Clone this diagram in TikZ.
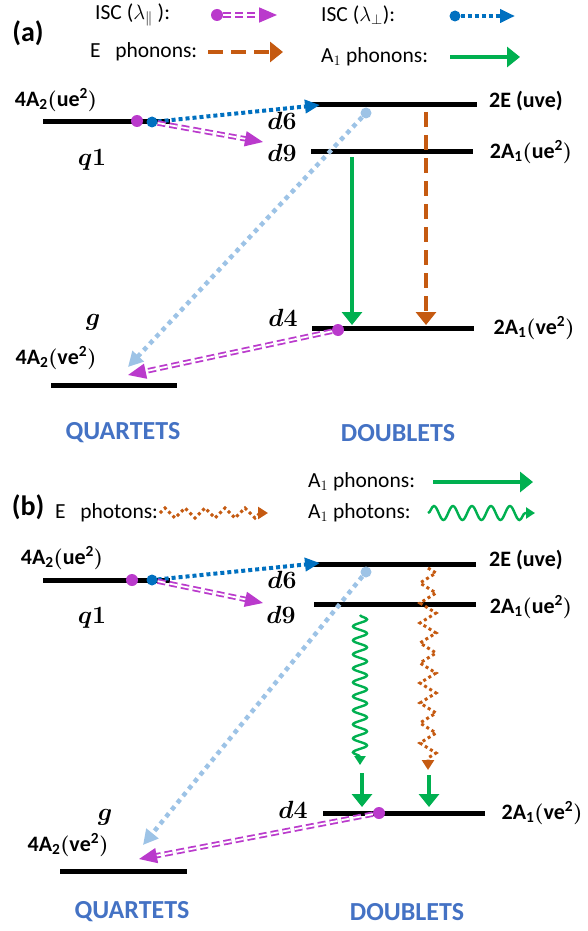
\documentclass[tikz,border=0pt]{standalone}
\usepackage{fontspec}
\setmainfont{Carlito}
\usepackage{amsmath}
\usetikzlibrary{arrows.meta,decorations.pathmorphing}
\definecolor{iscm}{RGB}{186,58,204}
\definecolor{iscb}{RGB}{0,112,192}
\definecolor{iscl}{RGB}{157,195,230}
\definecolor{phe}{RGB}{197,90,17}
\definecolor{pha}{RGB}{0,176,80}
\definecolor{grpblue}{RGB}{68,114,196}
\tikzset{
  panel/.style={font=\fontsize{28}{32}\selectfont\bfseries, inner sep=0pt},
  leg/.style={font=\fontsize{21.5}{24}\selectfont, inner sep=0pt},
  lab/.style={font=\fontsize{22}{26}\selectfont\bfseries\boldmath, inner sep=0pt},
  st/.style={font=\fontsize{27}{30}\selectfont\boldmath, inner sep=0pt},
  grp/.style={font=\fontsize{26}{30}\selectfont\bfseries, text=grpblue, inner sep=0pt},
  lvl/.style={line width=5pt, black},
  dotm/.style={circle, fill=iscm, inner sep=0pt, minimum size=12pt},
  dotb/.style={circle, fill=iscb, inner sep=0pt, minimum size=11pt},
  dotl/.style={circle, fill=iscl, inner sep=0pt, minimum size=11pt},
  iscpar/.style={draw=iscm, double=white, line width=1.8pt, double distance=1.8pt, dash pattern=on 8pt off 4pt, -{Triangle[length=18pt, width=15pt]}},
  iscperp/.style={draw=iscb, line width=4pt, dash pattern=on 4pt off 3pt, -{Triangle[length=15pt, width=13pt]}},
  isclb/.style={draw=iscl, line width=4.5pt, dash pattern=on 4.5pt off 4.5pt, -{Triangle[length=15pt, width=15pt]}},
  ephon/.style={draw=phe, line width=3.5pt, dash pattern=on 15pt off 8pt, -{Triangle[length=13pt, width=20pt]}},
  aphon/.style={draw=pha, line width=3.5pt, -{Triangle[length=13pt, width=20pt]}},
  ephot/.style={draw=phe, line width=3pt, dash pattern=on 3pt off 3pt, decorate, decoration={zigzag, amplitude=8pt, segment length=20pt, post length=8pt}, -{Triangle[length=10pt, width=12pt]}},
  aphot/.style={draw=pha, line width=2.4pt, decorate, decoration={snake, amplitude=7pt, segment length=14pt, post length=6pt}, -{Triangle[length=9pt, width=11pt]}},
}
\begin{document}
\begin{tikzpicture}[x=1pt,y=-1pt]
\useasboundingbox (0,0) rectangle (587,931);
% ---------- panel (a) ----------
\node[panel] (pa) at (28,33) {(a)};
\node[leg, anchor=west] (la1) at (95,15) {ISC ($\lambda_{\|}$ ):};
\node[dotm] (lma) at (217,15) {};
\coordinate (lmb) at (277,15);
\draw[iscpar] (lma) -- (lmb);
\node[leg, anchor=west] (la2) at (321,15) {ISC ($\lambda_{\perp}$):};
\node[dotb] (lba) at (455,16) {};
\coordinate (lbb) at (515,16);
\draw[iscperp] (lba) -- (lbb);
\node[leg, anchor=west] (la3) at (90,52) {E\ \ \ phonons:};
\coordinate (lea) at (208,52); \coordinate (leb) at (283,52);
\draw[ephon] (lea) -- (leb);
\node[leg, anchor=west] (la4) at (321,57) {$\mathrm{A}_1$ phonons:};
\coordinate (laa) at (450,57); \coordinate (lab) at (520,57);
\draw[aphon] (laa) -- (lab);

% levels
\coordinate (qaL) at (43,122);  \coordinate (qaR) at (170,122);
\coordinate (eaL) at (312,105); \coordinate (eaR) at (477,105);
\coordinate (uaL) at (311,151); \coordinate (uaR) at (473,151);
\coordinate (vaL) at (312,328); \coordinate (vaR) at (474,328);
\coordinate (gaL) at (51,385);  \coordinate (gaR) at (177,385);
\draw[lvl] (qaL) -- (qaR); \draw[lvl] (eaL) -- (eaR); \draw[lvl] (uaL) -- (uaR);
\draw[lvl] (vaL) -- (vaR); \draw[lvl] (gaL) -- (gaR);

\node[lab] (qa) at (56,100) {4$\mathrm{A_2(ue^2)}$};
\node[st] (q1a) at (92,160) {$q1$};
\node[st] (d6a) at (282,121) {$d6$};
\node[st] (d9a) at (282,153) {$d9$};
\node[lab] (ea) at (526,101) {2E (uve)};
\node[lab] (ua) at (531,152) {2$\mathrm{A_1(ue^2)}$};
\node[st] (d4a) at (283,318) {$d4$};
\node[lab] (va) at (534,328) {2$\mathrm{A_1(ve^2)}$};
\node[st] (ga) at (93,322) {$g$};
\node[lab] (gla) at (56,358) {4$\mathrm{A_2(ve^2)}$};
\node[grp] (qta) at (123,433) {QUARTETS};
\node[grp] (dba) at (398,433) {DOUBLETS};

% transitions
\coordinate (tma) at (263,142); \coordinate (tba) at (320,105);
\coordinate (tla) at (128,367); \coordinate (tga) at (128,375);
\node[dotl] (sla) at (366,113) {};
\draw[isclb] (sla) -- (tla);
\coordinate (sea) at (426,112); \coordinate (tea) at (426,325);
\coordinate (saa) at (352,157); \coordinate (taa) at (352,325);
\draw[ephon] (sea) -- (tea);
\draw[aphon] (saa) -- (taa);
\node[dotm] (sma) at (137,121) {};
\node[dotb] (sba) at (152,122) {};
\draw[iscperp] (sba) -- (tba);
\draw[iscpar] (sba) -- (tma);
\node[dotm] (sda) at (338,330) {};
\draw[iscpar] (sda) -- (tga);

% ---------- panel (b) ----------
\node[panel] (pb) at (28,507) {(b)};
\node[leg, anchor=west] (lb1) at (55,513) {E\ \ \ photons:};
\coordinate (lwa) at (160,513); \coordinate (lwb) at (268,513);
\draw[ephot, decoration={zigzag, amplitude=5pt, segment length=20pt, post length=8pt}] (lwa) -- (lwb);
\node[leg, anchor=west] (lb2) at (308,482) {$\mathrm{A}_1$ phonons:};
\coordinate (lpa) at (433,482); \coordinate (lpb) at (533,482);
\draw[aphon] (lpa) -- (lpb);
\node[leg, anchor=west] (lb3) at (308,513) {$\mathrm{A}_1$ photons:};
\coordinate (lsa) at (428,513); \coordinate (lsb) at (535,513);
\draw[aphot, decoration={snake, amplitude=7pt, segment length=19pt, post length=6pt}] (lsa) -- (lsb);

% levels
\coordinate (qbL) at (43,580);  \coordinate (qbR) at (170,580);
\coordinate (ebL) at (313,564); \coordinate (ebR) at (476,564);
\coordinate (ubL) at (314,604); \coordinate (ubR) at (476,604);
\coordinate (vbL) at (323,813); \coordinate (vbR) at (485,813);
\coordinate (gbL) at (60,871);  \coordinate (gbR) at (187,871);
\draw[lvl] (qbL) -- (qbR); \draw[lvl] (ebL) -- (ebR); \draw[lvl] (ubL) -- (ubR);
\draw[lvl] (vbL) -- (vbR); \draw[lvl] (gbL) -- (gbR);

\node[lab] (qb) at (62,558) {4$\mathrm{A_2(ue^2)}$};
\node[st] (q1b) at (92,618) {$q1$};
\node[st] (d6b) at (282,580) {$d6$};
\node[st] (d9b) at (281,615) {$d9$};
\node[lab] (eb) at (526,560) {2E (uve)};
\node[lab] (ub) at (531,607) {2$\mathrm{A_1(ue^2)}$};
\node[st] (d4b) at (293,810) {$d4$};
\node[lab] (vb) at (542,813) {2$\mathrm{A_1(ve^2)}$};
\node[st] (gb) at (105,817) {$g$};
\node[lab] (glb) at (68,845) {4$\mathrm{A_2(ve^2)}$};
\node[grp] (qtb) at (132,912) {QUARTETS};
\node[grp] (dbb) at (407,912) {DOUBLETS};

% transitions
\coordinate (tmb) at (263,603); \coordinate (tbb) at (320,563);
\coordinate (tlb) at (143,845); \coordinate (tgb) at (139,859);
\node[dotl] (slb) at (366,572) {};
\draw[isclb] (slb) -- (tlb);
\coordinate (seb) at (428,568); \coordinate (teb) at (428,770);
\coordinate (sab) at (360,615); \coordinate (tab) at (360,765);
\draw[ephot] (seb) -- (teb);
\draw[aphot] (sab) -- (tab);
\coordinate (sga) at (362,773); \coordinate (tgaa) at (362,807);
\coordinate (sgb) at (429,775); \coordinate (tgbb) at (429,807);
\draw[aphon] (sga) -- (tgaa);
\draw[aphon] (sgb) -- (tgbb);
\node[dotm] (smb) at (132,580) {};
\node[dotb] (sbb) at (152,580) {};
\draw[iscperp] (sbb) -- (tbb);
\draw[iscpar] (sbb) -- (tmb);
\node[dotm] (sdb) at (379,813) {};
\draw[iscpar] (sdb) -- (tgb);
\end{tikzpicture}
\end{document}
